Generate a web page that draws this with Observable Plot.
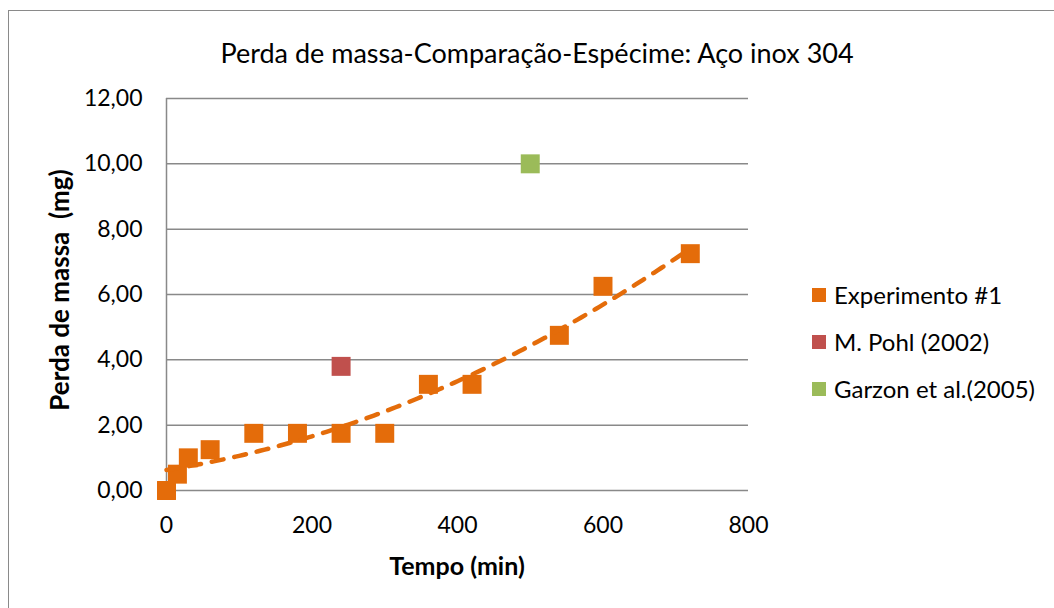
<!DOCTYPE html>
<html><head><meta charset="utf-8">
<script src="https://cdn.jsdelivr.net/npm/d3@7"></script>
<script src="https://cdn.jsdelivr.net/npm/@observablehq/plot@0.6"></script>
<style>
body{margin:0;background:#fff;font-family:Lato,"Open Sans",sans-serif;}
#wrap{position:relative;width:1054px;height:608px;overflow:hidden;background:#fff}
#frame{position:absolute;left:8px;top:10px;width:1100px;height:700px;border:1.5px solid #8a8a8a;box-sizing:border-box}
#chart{position:absolute;left:0;top:0}
.txt{position:absolute;white-space:pre;color:#000;line-height:1}
#title{left:537px;top:52px;transform:translate(-50%,-50%);font-size:27px}
#xlab{left:457px;top:565px;transform:translate(-50%,-50%);font-size:25px;font-weight:bold}
#ylab{left:59px;top:290px;transform:translate(-50%,-50%) rotate(-90deg);font-size:26px;font-weight:bold}
#legend{position:absolute;left:812px;top:271px;font-size:24px}
.row{display:flex;align-items:center;height:47px}
.sw{width:14px;height:14px;margin-right:8px}
</style></head>
<body>
<div id="wrap">
<div id="frame"></div>
<div id="chart"></div>
<div id="title" class="txt"></div>
<div id="xlab" class="txt"></div>
<div id="ylab" class="txt"></div>
<div id="legend"></div>
</div>
<script>
const titleText = "Perda de massa-Comparação-Espécime: Aço inox 304";
const xLabel = "Tempo (min)";
const yLabel = "Perda de massa  (mg)";
const xTicks = [0, 200, 400, 600, 800];
const yTicks = [0, 2, 4, 6, 8, 10, 12];

const seriesNames = ["Experimento #1", "M. Pohl (2002)", "Garzon et al.(2005)"];
const seriesColors = ["#E46C0A", "#C0504D", "#9BBB59"];

const expTime = [0, 15, 30, 60, 120, 180, 240, 300, 360, 420, 540, 600, 720];
const expLoss = [0, 0.5, 1.0, 1.25, 1.75, 1.75, 1.75, 1.75, 3.25, 3.25, 4.75, 6.25, 7.25];
const pohlTime = [240];
const pohlLoss = [3.8];
const garzonTime = [500];
const garzonLoss = [10.0];

const pts = [
  ...expTime.map((t, i) => ({t, m: expLoss[i], s: seriesNames[0]})),
  ...pohlTime.map((t, i) => ({t, m: pohlLoss[i], s: seriesNames[1]})),
  ...garzonTime.map((t, i) => ({t, m: garzonLoss[i], s: seriesNames[2]}))
];

// polynomial (order 2) least-squares trendline for Experimento #1
function polyFit2(xs, ys) {
  const n = xs.length;
  let S = [0,0,0,0,0], T = [0,0,0];
  for (let i = 0; i < n; i++) {
    const x = xs[i], y = ys[i];
    for (let k = 0; k < 5; k++) S[k] += Math.pow(x, k);
    for (let k = 0; k < 3; k++) T[k] += y * Math.pow(x, k);
  }
  const A = [[S[0],S[1],S[2],T[0]],[S[1],S[2],S[3],T[1]],[S[2],S[3],S[4],T[2]]];
  for (let c = 0; c < 3; c++) {
    for (let r = c + 1; r < 3; r++) {
      const f = A[r][c] / A[c][c];
      for (let k = c; k < 4; k++) A[r][k] -= f * A[c][k];
    }
  }
  const co = [0,0,0];
  for (let r = 2; r >= 0; r--) {
    let s = A[r][3];
    for (let k = r + 1; k < 3; k++) s -= A[r][k] * co[k];
    co[r] = s / A[r][r];
  }
  return co;
}
const co = polyFit2(expTime, expLoss);
const tMax = d3.max(expTime);
const trend = d3.range(0, tMax + 1, 5).map(t => ({t, m: co[0] + co[1]*t + co[2]*t*t}));

const fmt = d => d.toFixed(2).replace(".", ",");

const chart = Plot.plot({
  width: 1054, height: 608,
  marginLeft: 166, marginRight: 306, marginTop: 98, marginBottom: 118,
  style: {fontFamily: "Lato, 'Open Sans', sans-serif", fontSize: "23px", color: "#000", background: "transparent", overflow: "visible"},
  x: {domain: [0, 800]},
  y: {domain: [0, 12]},
  color: {domain: seriesNames, range: seriesColors},
  marks: [
    Plot.ruleY(yTicks, {stroke: "#898989", strokeWidth: 1.5}),
    Plot.ruleX([0], {stroke: "#898989", strokeWidth: 1.5}),
    Plot.axisX({ticks: xTicks, tickSize: 0, tickPadding: 26, tickFormat: d => String(d), label: null, fill: "#000", fontSize: 23}),
    Plot.axisY({ticks: yTicks, tickSize: 0, tickPadding: 24, tickFormat: fmt, label: null, fill: "#000", fontSize: 23}),
    Plot.dot(pts, {x: "t", y: "m", fill: "s", symbol: "square", r: 10.7, stroke: null}),
    Plot.line(trend, {x: "t", y: "m", stroke: seriesColors[0], strokeWidth: 4.5, strokeDasharray: "12,11", strokeLinecap: "round"})
  ]
});
document.getElementById("chart").appendChild(chart);
document.getElementById("title").textContent = titleText;
document.getElementById("xlab").textContent = xLabel;
document.getElementById("ylab").textContent = yLabel;
const leg = document.getElementById("legend");
seriesNames.forEach((n, i) => {
  const row = document.createElement("div"); row.className = "row";
  const sw = document.createElement("div"); sw.className = "sw"; sw.style.background = seriesColors[i];
  const lb = document.createElement("span"); lb.textContent = n;
  row.appendChild(sw); row.appendChild(lb); leg.appendChild(row);
});
</script>
</body></html>
